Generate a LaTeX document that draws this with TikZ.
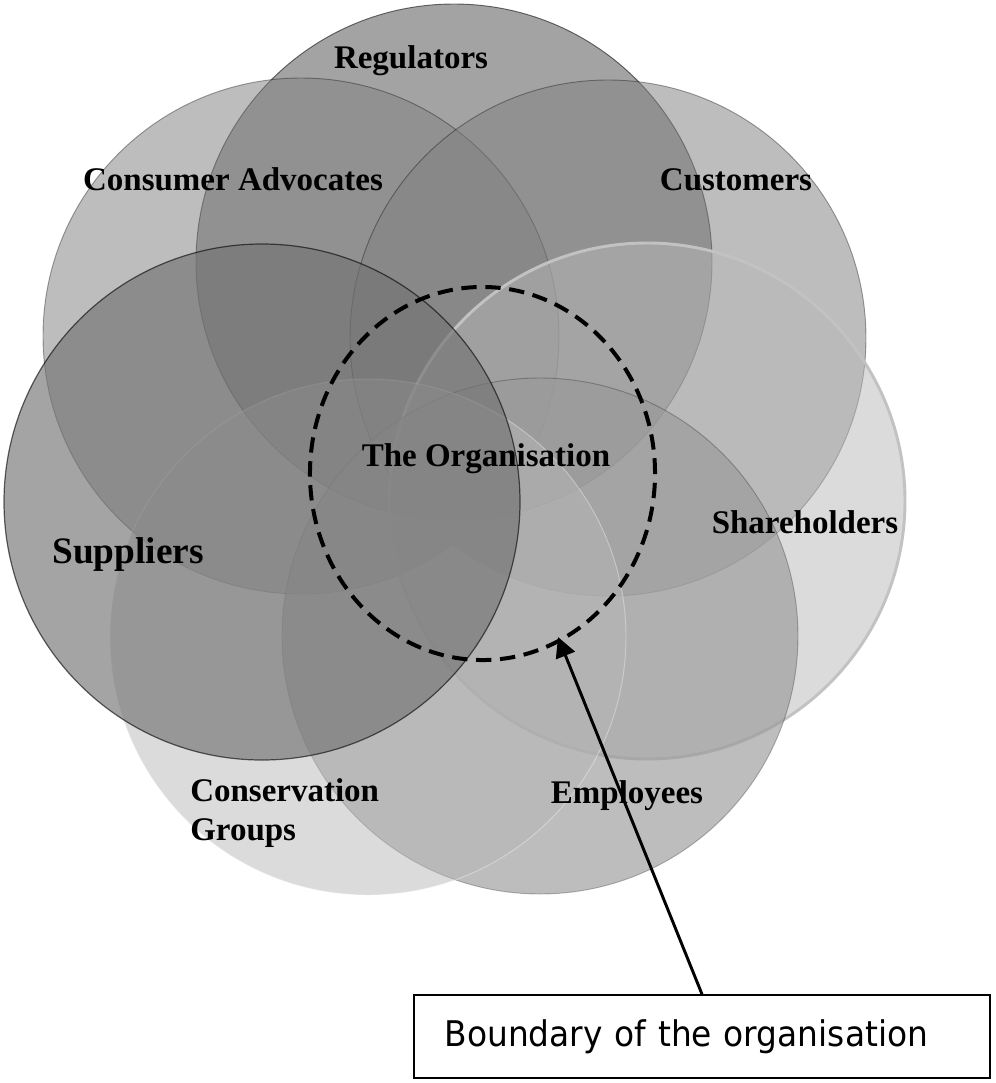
\documentclass[tikz,border=0pt]{standalone}
\usepackage{fontspec}
\setmainfont{Liberation Serif}
\newfontfamily\boxfont[FakeStretch=0.93]{DejaVu Sans}
\usetikzlibrary{arrows.meta}
\definecolor{ringc}{gray}{0.76}
\tikzset{
  lab/.style={font=\fontsize{24.75}{29}\selectfont\bfseries, inner sep=0pt, anchor=base, text=black},
  biglab/.style={lab, font=\fontsize{28}{32}\selectfont\bfseries},
  disc/.style 2 args={fill={rgb,1:red,#1;green,#1;blue,#1}, fill opacity=#2},
  rim/.style={draw=black, draw opacity=0.35, line width=0.7pt},
  boundary/.style={draw=black, line width=3pt, dash pattern=on 11.5pt off 6.5pt},
  pointer/.style={draw=black, line width=2.2pt, -{Triangle[length=15pt,width=15pt]}},
  labelbox/.style={draw=black, line width=1.4pt, fill=white, minimum width=432pt, minimum height=62pt,
     inner xsep=23pt, text width=386pt, align=left, font=\boxfont\fontsize{26.5}{30}\selectfont}
}
\begin{document}
\begin{tikzpicture}[x=0.75pt,y=-0.75pt]
\useasboundingbox (0,0) rectangle (996,1083);
% circle centres
\coordinate (cReg) at (454,262);
\coordinate (cCon) at (301,336);
\coordinate (cCus) at (608,338);
\coordinate (cSha) at (647,501);
\coordinate (cEmp) at (540,636);
\coordinate (cCsv) at (368,637);
\coordinate (cSup) at (262,502);
% circles
\path[disc={0.5}{0.72}, rim, draw opacity=0.55] (cReg) circle[radius=193.5pt];
\path[disc={0.5}{0.52}, rim] (cCon) circle[radius=193.5pt];
\path[disc={0.5}{0.52}, rim] (cCus) circle[radius=193.5pt];
\path[disc={0.72}{0.5}] (cSha) circle[radius=193.5pt];
\draw[ringc, line width=2.2pt] (cSha) circle[radius=193.5pt];
\path[disc={0.6}{0.65}, rim, draw opacity=0.25] (cEmp) circle[radius=193.5pt];
\path[disc={0.72}{0.5}, draw=white, draw opacity=0.35, line width=0.7pt] (cCsv) circle[radius=193.5pt];
\path[disc={0.45}{0.65}, rim, draw opacity=0.6, line width=0.9pt] (cSup) circle[radius=193.5pt];
% boundary of the organisation
\draw[boundary] (482.5,473.5) ellipse[x radius=129.4pt, y radius=139.9pt];
% labels
\node[lab] (lReg) at (411,68) {Regulators};
\node[lab] (lCon) at (233,190) {Consumer Advocates};
\node[lab] (lCus) at (736,190) {Customers};
\node[lab] (lOrg) at (486,466) {The Organisation};
\node[lab] (lSha) at (805,533) {Shareholders};
\node[biglab] (lSup) at (128,563) {Suppliers};
\node[lab, anchor=base west] (lCsv1) at (190,801) {Conservation};
\node[lab, anchor=base west] (lCsv2) at (190,840) {Groups};
\node[lab] (lEmp) at (627,803) {Employees};
% callout
\node[labelbox] (box) at (702,1036.5) {Boundary of the organisation};
\coordinate (tip) at (558,637);
\draw[pointer] (box.north) -- (tip);
\end{tikzpicture}
\end{document}
